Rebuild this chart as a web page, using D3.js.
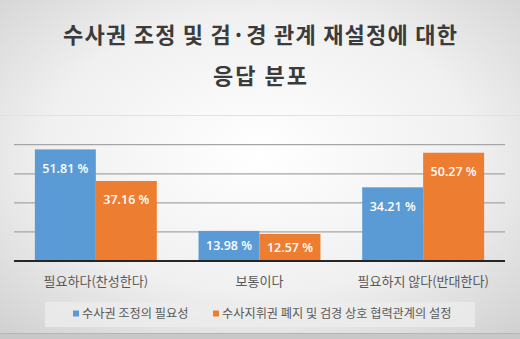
<!DOCTYPE html>
<html><head><meta charset="utf-8">
<script src="https://cdn.jsdelivr.net/npm/d3@7"></script>
<style>body{margin:0;padding:0;overflow:hidden;background:#fff}</style>
</head><body>
<svg id="c" width="520" height="339"></svg>
<script>
const titleLines = ["수사권 조정 및 검·경 관계 재설정에 대한", "응답 분포"];
const categories = ["필요하다(찬성한다)", "보통이다", "필요하지 않다(반대한다)"];
const seriesNames = ["수사권 조정의 필요성", "수사지휘권 폐지 및 검경 상호 협력관계의 설정"];
const seriesA = [51.81, 13.98, 34.21];
const seriesB = [37.16, 12.57, 50.27];
const gridTicks = [0, 13.5, 27, 40.5, 54];
const colors = ["#5b9bd5", "#ed7d31"];

const svg = d3.select("#c");
const W = 520, H = 339;
const defs = svg.append("defs");
const rg = defs.append("radialGradient").attr("id","bg").attr("cx","50%").attr("cy","45%").attr("r","75%");
rg.append("stop").attr("offset","0%").attr("stop-color","#ffffff");
rg.append("stop").attr("offset","55%").attr("stop-color","#f0f0f0");
rg.append("stop").attr("offset","100%").attr("stop-color","#cfcfcf");
svg.append("rect").attr("width",W).attr("height",H).attr("fill","url(#bg)");
svg.append("line").attr("x1",0).attr("x2",W).attr("y1",115.5).attr("y2",115.5).attr("stroke","#e2e2e2").attr("stroke-width",1);
svg.append("rect").attr("x",0).attr("y",333).attr("width",W).attr("height",6).attr("fill","#c8c8c8");
svg.append("line").attr("x1",0).attr("x2",W).attr("y1",333.5).attr("y2",333.5).attr("stroke","#b5b5b5");

const font = "'Noto Sans CJK KR','Noto Sans',sans-serif";
const titleWidths = [394, 94];
svg.selectAll("text.title").data(titleLines).join("text").attr("class","title")
  .attr("x", W/2).attr("y",(d,i)=>35 + i*41).attr("dy","0.36em")
  .attr("text-anchor","middle").attr("font-family",font).attr("font-weight",700)
  .attr("font-size",22).attr("fill","#3b3b3b")
  .attr("textLength",(d,i)=>titleWidths[i]).attr("lengthAdjust","spacing").text(d=>d);

const x0 = d3.scaleBand().domain(categories).range([14,505]).paddingInner(0.255).paddingOuter(0.1275);
const x1 = d3.scaleBand().domain([0,1]).range([0,x0.bandwidth()]);
const y = d3.scaleLinear().domain([0,54]).range([261,144.7]);

svg.append("g").selectAll("line").data(gridTicks.slice(1)).join("line")
  .attr("x1",14).attr("x2",505).attr("y1",d=>y(d)).attr("y2",d=>y(d))
  .attr("stroke","#a6a6a6").attr("stroke-width",1.3);

const series = [seriesA, seriesB];
const bars = [];
series.forEach((s,si)=>s.forEach((v,ci)=>bars.push({si,ci,v})));
svg.append("g").selectAll("rect").data(bars).join("rect")
  .attr("x",d=>x0(categories[d.ci])+x1(d.si)).attr("width",x1.bandwidth())
  .attr("y",d=>y(d.v)).attr("height",d=>y(0)-y(d.v)).attr("fill",d=>colors[d.si]);

svg.append("g").selectAll("text").data(bars).join("text")
  .attr("x",d=>x0(categories[d.ci])+x1(d.si)+x1.bandwidth()/2)
  .attr("y",d=>{const h=y(0)-y(d.v); return h>40 ? y(d.v)+19 : y(d.v)+h/2;})
  .attr("dy","0.36em").attr("text-anchor","middle")
  .attr("font-family","'Open Sans',sans-serif").attr("font-weight",600).attr("font-size",12.5)
  .attr("fill","#ffffff").text(d=>d3.format(".2f")(d.v)+" %");

const xAxis = svg.append("g").attr("transform","translate(0,261)").call(d3.axisBottom(x0).tickSize(0).tickPadding(16));
xAxis.select(".domain").attr("stroke","#262626").attr("stroke-width",2).attr("d","M14,0H505");
xAxis.selectAll("text").attr("font-family",font).attr("font-size",13).attr("fill","#595959");

// legend
svg.append("rect").attr("x",45).attr("y",302).attr("width",430).attr("height",25).attr("fill","#ececec").attr("opacity",0.8);
const leg = [{x:73, tx:82}, {x:213, tx:222}];
leg.forEach((l,i)=>{
  svg.append("rect").attr("x",l.x).attr("y",310.5).attr("width",6).attr("height",6).attr("fill",colors[i]);
  svg.append("text").attr("x",l.tx).attr("y",314).attr("dy","0.36em").attr("font-family",font)
    .attr("font-size",12.2).attr("fill","#595959").text(seriesNames[i]);
});
</script>
</body></html>
